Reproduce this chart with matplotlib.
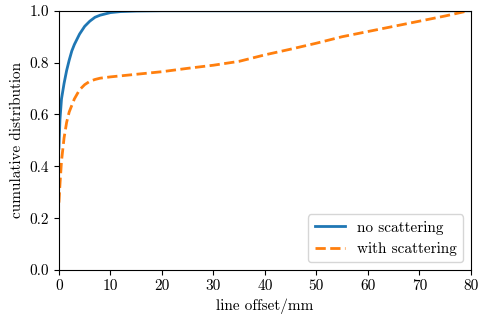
import matplotlib
matplotlib.use("Agg")
import matplotlib.pyplot as plt
import numpy as np

plt.rcParams['font.family'] = 'serif'
plt.rcParams['font.serif'] = ['cmr10', 'DejaVu Serif']
plt.rcParams['mathtext.fontset'] = 'cm'
plt.rcParams['axes.unicode_minus'] = False
plt.rcParams['font.size'] = 11

no_scatter_x = [0.0, 0.2, 0.5, 1.0, 1.5, 2.0, 2.5, 3.0, 4.0, 5.0, 6.0, 7.0, 8.0, 10.0, 12.0, 15.0, 20.0, 80.0]
no_scatter_y = [0.47, 0.58, 0.66, 0.72, 0.77, 0.81, 0.845, 0.87, 0.91, 0.94, 0.96, 0.975, 0.983, 0.993, 0.997, 0.999, 1.0, 1.0]

with_scatter_x = [0.0, 0.2, 0.5, 1.0, 1.5, 2.0, 3.0, 4.0, 5.0, 6.0, 7.0, 8.0, 10.0, 15.0, 20.0, 25.0, 30.0, 35.0, 40.0, 45.0, 50.0, 55.0, 60.0, 65.0, 70.0, 75.0, 79.5]
with_scatter_y = [0.26, 0.33, 0.42, 0.51, 0.57, 0.61, 0.66, 0.695, 0.715, 0.728, 0.735, 0.74, 0.745, 0.755, 0.765, 0.778, 0.79, 0.805, 0.83, 0.852, 0.875, 0.9, 0.92, 0.94, 0.96, 0.98, 1.0]

fig = plt.figure(figsize=(4.83, 3.22), dpi=100)
ax = fig.add_axes([0.122, 0.1615, 0.853, 0.805])
ax.plot(no_scatter_x, no_scatter_y, color='#1f77b4', lw=2, label='no scattering')
ax.plot(with_scatter_x, with_scatter_y, color='#ff7f0e', lw=2, ls='--', label='with scattering')
ax.set_xlim(0, 80)
ax.set_ylim(0, 1)
ax.set_xticks([0, 10, 20, 30, 40, 50, 60, 70, 80])
ax.set_yticks([0.0, 0.2, 0.4, 0.6, 0.8, 1.0])
ax.set_xlabel('line offset/mm')
ax.set_ylabel('cumulative distribution')
ax.legend(loc='lower right')
fig.savefig('out.png', dpi=100)
